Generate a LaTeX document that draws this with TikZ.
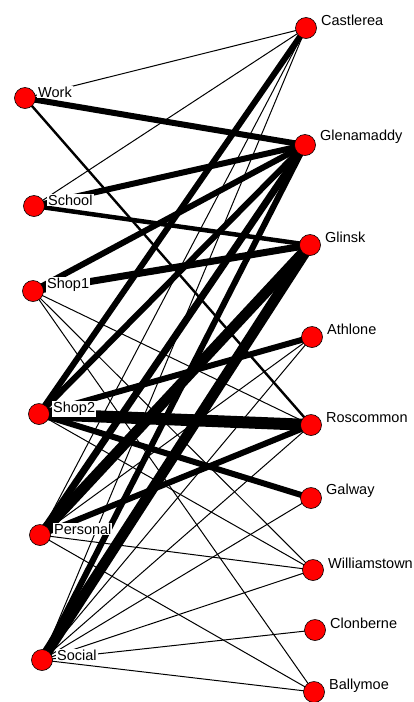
\documentclass[tikz,border=0pt]{standalone}
\usepackage{fontspec}
\setmainfont{Liberation Sans}
\begin{document}
\begin{tikzpicture}[x=1pt,y=-1pt,
  dot/.style={circle,fill=red,draw=black,line width=0.6pt,minimum size=21pt,inner sep=0pt},
  llab/.style={anchor=west,fill=white,inner sep=1pt,font=\fontsize{14.5}{16}\selectfont},
  rlab/.style={anchor=west,inner sep=1pt,font=\fontsize{14.5}{16}\selectfont},
  w1/.style={line width=1pt},
  w2/.style={line width=2.4pt},
  w4/.style={line width=4.5pt},
  w5/.style={line width=6pt},
  w6/.style={line width=7pt},
  w9/.style={line width=10.5pt},
  w10/.style={line width=12pt}]
\useasboundingbox (0,0) rectangle (413,702);
% coordinates
\coordinate (Work) at (25,98);
\coordinate (School) at (34,206);
\coordinate (Shop1) at (33,291);
\coordinate (Shop2) at (39,414);
\coordinate (Personal) at (40,535);
\coordinate (Social) at (42,660);
\coordinate (Castlerea) at (306,28);
\coordinate (Glenamaddy) at (305,145);
\coordinate (Glinsk) at (310,245);
\coordinate (Athlone) at (312,337);
\coordinate (Roscommon) at (311,425);
\coordinate (Galway) at (311,498);
\coordinate (Williamstown) at (313,570);
\coordinate (Clonberne) at (315,630);
\coordinate (Ballymoe) at (314,692);
% edges
\draw[w1] (Work) -- (Castlerea);
\draw[w5] (Work) -- (Glenamaddy);
\draw[w2] (Work) -- (Roscommon);
\draw[w1] (School) -- (Castlerea);
\draw[w5] (School) -- (Glenamaddy);
\draw[w4] (School) -- (Glinsk);
\draw[w5] (Shop1) -- (Glenamaddy);
\draw[w6] (Shop1) -- (Glinsk);
\draw[w1] (Shop1) -- (Roscommon);
\draw[w1] (Shop1) -- (Williamstown);
\draw[w1] (Shop1) -- (Ballymoe);
\draw[w5] (Shop2) -- (Castlerea);
\draw[w5] (Shop2) -- (Glenamaddy);
\draw[w5] (Shop2) -- (Athlone);
\draw[w10] (Shop2) -- (Roscommon);
\draw[w5] (Shop2) -- (Galway);
\draw[w1] (Shop2) -- (Williamstown);
\draw[w1] (Personal) -- (Castlerea);
\draw[w6] (Personal) -- (Glenamaddy);
\draw[w9] (Personal) -- (Glinsk);
\draw[w1] (Personal) -- (Athlone);
\draw[w5] (Personal) -- (Roscommon);
\draw[w1] (Personal) -- (Williamstown);
\draw[w1] (Personal) -- (Ballymoe);
\draw[w1] (Social) -- (Castlerea);
\draw[w5] (Social) -- (Glenamaddy);
\draw[w9] (Social) -- (Glinsk);
\draw[w1] (Social) -- (Athlone);
\draw[w1] (Social) -- (Roscommon);
\draw[w1] (Social) -- (Galway);
\draw[w1] (Social) -- (Williamstown);
\draw[w1] (Social) -- (Clonberne);
\draw[w1] (Social) -- (Ballymoe);
% labels
\node[llab] (Work-l) at (37,92) {Work};
\node[llab] (School-l) at (47,200) {School};
\node[llab] (Shop1-l) at (46,285) {Shop1};
\node[llab] (Shop2-l) at (52,409) {Shop2};
\node[llab] (Personal-l) at (53,529) {Personal};
\node[llab] (Social-l) at (56,655) {Social};
\node[rlab] (Castlerea-l) at (320,20) {Castlerea};
\node[rlab] (Glenamaddy-l) at (319,137) {Glenamaddy};
\node[rlab] (Glinsk-l) at (324,237) {Glinsk};
\node[rlab] (Athlone-l) at (326,329) {Athlone};
\node[rlab] (Roscommon-l) at (325,418) {Roscommon};
\node[rlab] (Galway-l) at (325,491) {Galway};
\node[rlab] (Williamstown-l) at (327,563) {Williamstown};
\node[rlab] (Clonberne-l) at (329,623) {Clonberne};
\node[rlab] (Ballymoe-l) at (328,686) {Ballymoe};
% nodes
\foreach \n in {Work,School,Shop1,Shop2,Personal,Social,Castlerea,Glenamaddy,Glinsk,Athlone,Roscommon,Galway,Williamstown,Clonberne,Ballymoe}
  \node[dot] (\n-dot) at (\n) {};
\end{tikzpicture}
\end{document}
